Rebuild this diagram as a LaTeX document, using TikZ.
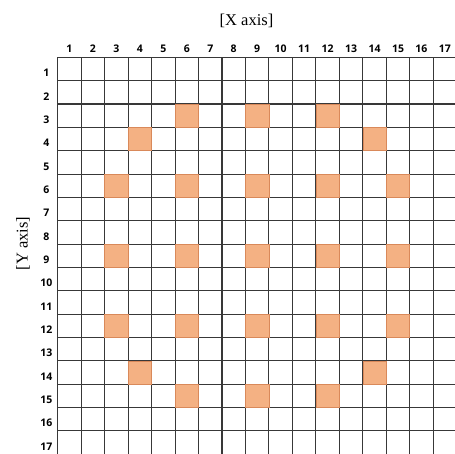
\documentclass[tikz,border=0pt]{standalone}
\usepackage{fontspec}
\setmainfont{Liberation Serif}
\newfontfamily\numfont{Open Sans}
\definecolor{cellfill}{HTML}{F4B183}
\definecolor{celledge}{HTML}{D9895A}
\definecolor{gridline}{HTML}{383838}
\tikzset{
  numlabel/.style={font=\numfont\bfseries\fontsize{10.5}{10.5}\selectfont, inner sep=0pt},
  axislabel/.style={font=\fontsize{16.5}{18}\selectfont, inner sep=0pt},
  hit/.style={fill=cellfill, draw=celledge, line width=0.6pt},
  gridstyle/.style={draw=gridline, line width=1.1pt}
}
\begin{document}
\begin{tikzpicture}[x=1pt,y=-1pt]
\useasboundingbox (0,0) rectangle (455,453);
\def\xo{57.7}
\def\yo{57.3}
\def\cw{23.47}
\def\ch{23.35}
% axis labels
\node[axislabel] (xaxis) at (246.5,20.5) {[X axis]};
\node[axislabel, rotate=90] (yaxis) at (23,243.5) {[Y axis]};
% grid
\begin{scope}
\clip (0,0) rectangle (455,453);
\foreach \i in {0,...,17} {
  \draw[gridstyle] ({\xo+\i*\cw},\yo) -- ({\xo+\i*\cw},{\yo+17*\ch+2});
  \draw[gridstyle] (\xo,{\yo+\i*\ch}) -- ({\xo+17*\cw+2},{\yo+\i*\ch});
}
% highlighted cells (column,row)
\foreach \c/\r in {6/3,9/3,12/3,4/4,14/4,
                   3/6,6/6,9/6,12/6,15/6,
                   3/9,6/9,9/9,12/9,15/9,
                   3/12,6/12,9/12,12/12,15/12,
                   4/14,14/14,6/15,9/15,12/15} {
  \draw[hit] ({\xo+(\c-1)*\cw},{\yo+(\r-1)*\ch}) rectangle ({\xo+\c*\cw},{\yo+\r*\ch});
}
\end{scope}
% column and row numbers
\foreach \i in {1,...,17} {
  \node[numlabel] (col\i) at ({\xo+(\i-0.5)*\cw},49) {\i};
  \node[numlabel] (row\i) at (46.3,{\yo+(\i-0.5)*\ch+4}) {\i};
}
\end{tikzpicture}
\end{document}
